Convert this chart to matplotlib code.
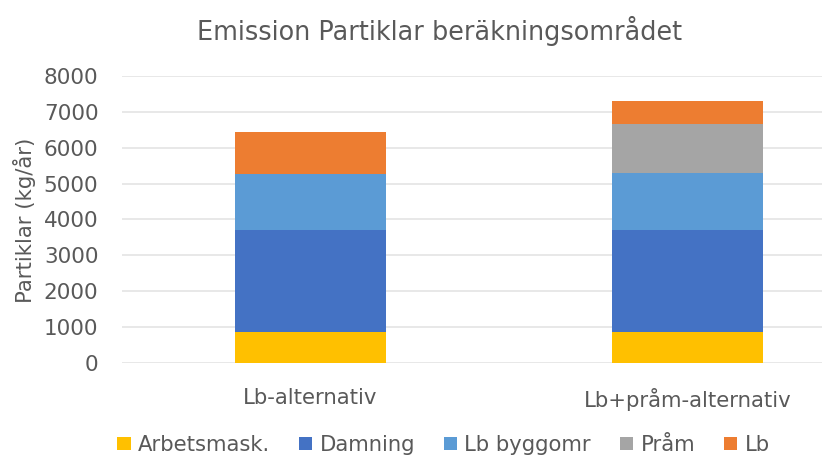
import matplotlib
matplotlib.use("Agg")
import matplotlib.pyplot as plt
import numpy as np

categories = ["Lb-alternativ", "Lb+pråm-alternativ"]
series_names = ["Arbetsmask.", "Damning", "Lb byggomr", "Pråm", "Lb"]
arbetsmask = [850, 850]
damning = [2840, 2840]
lb_byggomr = [1580, 1590]
pram = [0, 1370]
lb = [1170, 640]
colors = ["#FFC000", "#4472C4", "#5B9BD5", "#A5A5A5", "#ED7D31"]
yticks = [0, 1000, 2000, 3000, 4000, 5000, 6000, 7000, 8000]

plt.rcParams['font.family'] = ['DejaVu Sans']
text_color = "#595959"

W, H = 822, 457
fig = plt.figure(figsize=(W / 100, H / 100), dpi=100)
left_px, right_px, top_px, bottom_px = 122, 876, 76, 362.7
ax = fig.add_axes([left_px / W, 1 - bottom_px / H, (right_px - left_px) / W, (bottom_px - top_px) / H])

x = np.arange(len(categories))
bottom = np.zeros(len(categories))
for name, vals, c in zip(series_names, [arbetsmask, damning, lb_byggomr, pram, lb], colors):
    ax.bar(x, vals, 0.4, bottom=bottom, color=c, label=name, zorder=3)
    bottom += np.array(vals)

ax.set_xlim(-0.5, 1.5)
ax.set_ylim(0, 8000)
ax.set_yticks(yticks)
ax.set_yticklabels([str(v) for v in yticks], fontsize=15.5, color=text_color)
ax.set_xticks(x)
ax.set_xticklabels(categories, fontsize=15.3, color=text_color)
ax.tick_params(axis='both', length=0)
ax.tick_params(axis='y', pad=17)
ax.tick_params(axis='x', pad=18)
ax.grid(axis='y', color="#E6E6E6", linewidth=1.3, zorder=0)
for s in ax.spines.values():
    s.set_visible(False)

fig.text(24 / W, 1 - 220 / H, "Partiklar (kg/år)", rotation=90, ha='center', va='center',
         fontsize=15.3, color=text_color)

fig.text(440 / W, 1 - 31 / H, "Emission Partiklar beräkningsområdet", ha='center', va='center',
         fontsize=18.4, color=text_color)

handles, labels = ax.get_legend_handles_labels()
leg = fig.legend(handles, labels, loc='center', bbox_to_anchor=(443.5 / W, 1 - 445 / H), ncol=5,
                 frameon=False, fontsize=15.2, handlelength=0.62, handleheight=0.62,
                 handletextpad=0.35, columnspacing=1.37, labelcolor=text_color,
                 borderpad=0, borderaxespad=0)

fig.savefig("out.png", dpi=100)
